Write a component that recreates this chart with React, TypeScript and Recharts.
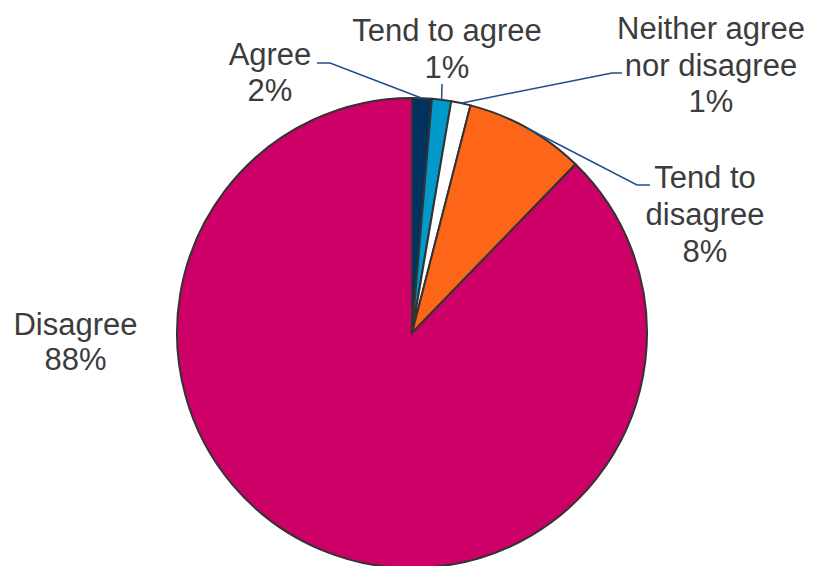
import React from "react";
import { PieChart, Pie, Cell } from "recharts";

const categories = ["Agree", "Tend to agree", "Neither agree nor disagree", "Tend to disagree", "Disagree"];
const values = [1.35, 1.32, 1.33, 8.25, 87.75];
const percentLabels = ["2%", "1%", "1%", "8%", "88%"];
const labelLines = [["Agree"], ["Tend to agree"], ["Neither agree", "nor disagree"], ["Tend to", "disagree"], ["Disagree"]];
const colors = ["#00325f", "#0099cc", "#ffffff", "#fd6619", "#cc0066"];

// label layout, offsets from pie centre
const layout = [
  { tx: -142, ty: -268, lh: 36, line: [[-95, -270], [-82, -270]] },
  { tx: 35, ty: -292, lh: 37, line: [[30, -249]] },
  { tx: 299, ty: -294, lh: 36.5, line: [[210, -260], [200, -260]] },
  { tx: 293, ty: -145, lh: 37, line: [[238, -148], [225, -148]] },
  { tx: -336.5, ty: 2, lh: 35, line: [] as number[][] },
];

const data = categories.map((name, i) => ({ name, value: values[i] }));

const RAD = Math.PI / 180;

const renderLabel = (props: any) => {
  const { cx, cy, midAngle, outerRadius, index } = props;
  const L = layout[index];
  const ax = cx + outerRadius * Math.cos(-midAngle * RAD);
  const ay = cy + outerRadius * Math.sin(-midAngle * RAD);
  const lines = [...labelLines[index], percentLabels[index]];
  const pts = L.line.map((p) => `${cx + p[0]},${cy + p[1]}`);
  const poly = L.line.length ? [...pts, `${ax},${ay}`].join(" ") : null;
  return (
    <g key={`lbl-${index}`}>
      {poly && <polyline points={poly} fill="none" stroke="#1f4e8c" strokeWidth={1.5} />}
      <text
        x={cx + L.tx}
        y={cy + L.ty}
        textAnchor="middle"
        fill="#3c3c3c"
        fontSize={31}
        fontFamily="'Liberation Sans', Arial, sans-serif"
      >
        {lines.map((t, k) => (
          <tspan key={k} x={cx + L.tx} dy={k === 0 ? 0 : L.lh}>
            {t}
          </tspan>
        ))}
      </text>
    </g>
  );
};

export default function App() {
  return (
    <div style={{ position: "absolute", left: 0, top: 0, width: 813, height: 566, background: "#fff" }}>
      <PieChart width={813} height={566} margin={{ top: 0, right: 0, bottom: 0, left: 0 }}>
        <Pie
          data={data}
          dataKey="value"
          nameKey="name"
          cx={412}
          cy={333}
          outerRadius={235}
          startAngle={90}
          endAngle={-270}
          stroke="#333333"
          strokeWidth={2}
          label={renderLabel}
          labelLine={false}
          isAnimationActive={false}
        >
          {data.map((d, i) => (
            <Cell key={d.name} fill={colors[i]} />
          ))}
        </Pie>
      </PieChart>
    </div>
  );
}
